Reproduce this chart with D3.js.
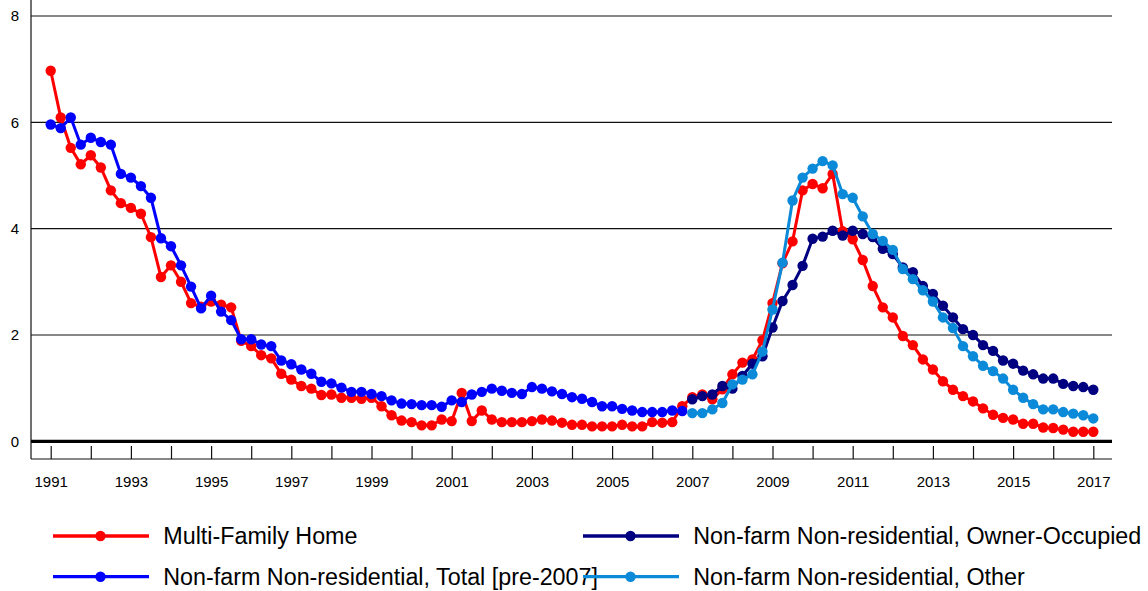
<!DOCTYPE html>
<meta charset="utf-8">
<style>
body { margin: 0; background: #fff; }
svg { font-family: "Liberation Sans", Arial, sans-serif; }
.grid line { stroke: #111; stroke-width: 1.2px; }
.series path { fill: none; stroke-width: 3px; }
</style>
<svg width="1148" height="591"></svg>
<script src="https://cdn.jsdelivr.net/npm/d3@7"></script>
<script>
// quarterly series, first quarter of each is given by its start year
const multiFamily = [6.97, 6.09, 5.52, 5.21, 5.38, 5.15, 4.72, 4.48, 4.39, 4.28, 3.84, 3.09, 3.31, 3.0, 2.6, 2.53,
  2.63, 2.57, 2.52, 1.89, 1.79, 1.62, 1.56, 1.27, 1.16, 1.04, 0.99, 0.87, 0.88, 0.82, 0.82, 0.80,
  0.82, 0.66, 0.49, 0.39, 0.36, 0.30, 0.30, 0.41, 0.38, 0.91, 0.38, 0.58, 0.41, 0.36, 0.36, 0.36,
  0.38, 0.41, 0.39, 0.35, 0.31, 0.31, 0.28, 0.28, 0.28, 0.31, 0.28, 0.28, 0.36, 0.35, 0.36, 0.66,
  0.83, 0.88, 0.79, 0.98, 1.26, 1.48, 1.54, 1.90, 2.60, 3.35, 3.76, 4.72, 4.84, 4.76, 5.03, 3.95,
  3.80, 3.41, 2.92, 2.52, 2.33, 1.98, 1.81, 1.54, 1.35, 1.13, 0.97, 0.85, 0.75, 0.62, 0.50, 0.44,
  0.41, 0.33, 0.33, 0.26, 0.25, 0.22, 0.18, 0.18, 0.18];

const nonresTotal = [5.96, 5.89, 6.09, 5.58, 5.71, 5.63, 5.58, 5.03, 4.96, 4.80, 4.58, 3.82, 3.67, 3.31, 2.91, 2.50,
  2.74, 2.44, 2.28, 1.92, 1.92, 1.82, 1.79, 1.52, 1.45, 1.35, 1.27, 1.12, 1.09, 1.01, 0.93, 0.93,
  0.89, 0.85, 0.77, 0.71, 0.70, 0.68, 0.68, 0.65, 0.77, 0.74, 0.88, 0.93, 0.99, 0.95, 0.91, 0.89,
  1.02, 0.99, 0.94, 0.89, 0.83, 0.80, 0.74, 0.66, 0.66, 0.61, 0.58, 0.55, 0.55, 0.55, 0.58, 0.57];

const nonresOwner = [0.79, 0.85, 0.88, 1.04, 0.99, 1.23, 1.46, 1.60, 2.14, 2.64, 2.94, 3.30, 3.81, 3.85, 3.96, 3.87,
  3.96, 3.90, 3.84, 3.62, 3.52, 3.27, 3.18, 2.92, 2.77, 2.55, 2.33, 2.11, 2.00, 1.81, 1.70, 1.52,
  1.46, 1.33, 1.26, 1.18, 1.18, 1.08, 1.04, 1.02, 0.97];

const nonresOther = [0.53, 0.53, 0.60, 0.72, 1.07, 1.16, 1.26, 1.69, 2.48, 3.36, 4.53, 4.96, 5.13, 5.27, 5.19, 4.65,
  4.58, 4.23, 3.90, 3.77, 3.60, 3.24, 3.05, 2.84, 2.63, 2.33, 2.13, 1.79, 1.60, 1.42, 1.32, 1.18,
  0.97, 0.82, 0.70, 0.60, 0.60, 0.55, 0.52, 0.49, 0.43];

const seriesNames = ["Multi-Family Home", "Non-farm Non-residential, Total [pre-2007]",
  "Non-farm Non-residential, Owner-Occupied", "Non-farm Non-residential, Other"];
const seriesStart = [1991, 1991, 2007, 2007];
const seriesColors = ["#ff0000", "#0000ff", "#000080", "#0a8ad8"];
const yearTicks = d3.range(1991, 2018);
const yTicks = [0, 2, 4, 6, 8];

const series = [multiFamily, nonresTotal, nonresOwner, nonresOther].map(function(vals, k) {
  return {
    name: seriesNames[k],
    color: seriesColors[k],
    values: vals.map(function(v, i) { return { t: seriesStart[k] + i / 4, v: v }; })
  };
});

const svg = d3.select("svg");
const left = 31, right = 1112, bottom = 459;

const x = d3.scaleLinear().domain([1991, 2017]).range([50.7, 1093.3]);
const y = d3.scaleLinear().domain([0, 8]).range([441.3, 16]);

// gridlines
svg.append("g").attr("class", "grid")
  .selectAll("line")
  .data(yTicks.filter(function(d) { return d > 0; }))
  .enter().append("line")
  .attr("x1", left).attr("x2", right)
  .attr("y1", y).attr("y2", y);

// y labels
const yAxis = svg.append("g")
  .attr("transform", "translate(" + left + ",0)")
  .call(d3.axisLeft(y).tickValues(yTicks).tickSize(0).tickPadding(12));
yAxis.select(".domain").remove();
yAxis.selectAll("text").attr("font-size", 15).attr("font-family", "Liberation Sans, Arial, sans-serif").attr("fill", "#000");

// x axis: ticks rise from a baseline under the zero line
const xAxis = svg.append("g")
  .attr("transform", "translate(0," + bottom + ")")
  .call(d3.axisBottom(x).tickValues(yearTicks).tickSize(-13).tickPadding(17)
    .tickFormat(function(d) { return d % 2 === 1 ? d : ""; }));
xAxis.select(".domain").remove();
xAxis.selectAll("line").attr("stroke", "#111").attr("stroke-width", 1.2);
xAxis.selectAll("text").attr("font-size", 15).attr("font-family", "Liberation Sans, Arial, sans-serif").attr("fill", "#000");

svg.append("line").attr("x1", left).attr("x2", right).attr("y1", bottom).attr("y2", bottom)
  .attr("stroke", "#111").attr("stroke-width", 1.2);
svg.append("line").attr("x1", left).attr("x2", left).attr("y1", 0).attr("y2", bottom)
  .attr("stroke", "#111").attr("stroke-width", 1.2);
svg.append("line").attr("x1", left).attr("x2", right).attr("y1", y(0)).attr("y2", y(0))
  .attr("stroke", "#000").attr("stroke-width", 3.2);

// series
const line = d3.line().x(function(d) { return x(d.t); }).y(function(d) { return y(d.v); });

const sg = svg.append("g").attr("class", "series")
  .selectAll("g")
  .data(series)
  .enter().append("g");

sg.append("path")
  .attr("stroke", function(d) { return d.color; })
  .attr("d", function(d) { return line(d.values); });

sg.selectAll("circle")
  .data(function(d) { return d.values.map(function(p) { return { t: p.t, v: p.v, color: d.color }; }); })
  .enter().append("circle")
  .attr("cx", function(d) { return x(d.t); })
  .attr("cy", function(d) { return y(d.v); })
  .attr("r", 5.2)
  .attr("fill", function(d) { return d.color; });

// legend, two columns by two rows
const legendPos = [[53, 536], [53, 576.7], [583, 536], [583, 576.7]];
const lg = svg.append("g").selectAll("g")
  .data(series)
  .enter().append("g")
  .attr("transform", function(d, i) { return "translate(" + legendPos[i][0] + "," + legendPos[i][1] + ")"; });

lg.append("line").attr("x1", 0).attr("x2", 96).attr("y1", 0).attr("y2", 0)
  .attr("stroke", function(d) { return d.color; }).attr("stroke-width", 3.3);
lg.append("circle").attr("cx", 47.5).attr("cy", 0).attr("r", 5.2)
  .attr("fill", function(d) { return d.color; });
lg.append("text").attr("x", 110.3).attr("y", 8.2)
  .attr("font-size", 23.3).attr("fill", "#000")
  .text(function(d) { return d.name; });
</script>
